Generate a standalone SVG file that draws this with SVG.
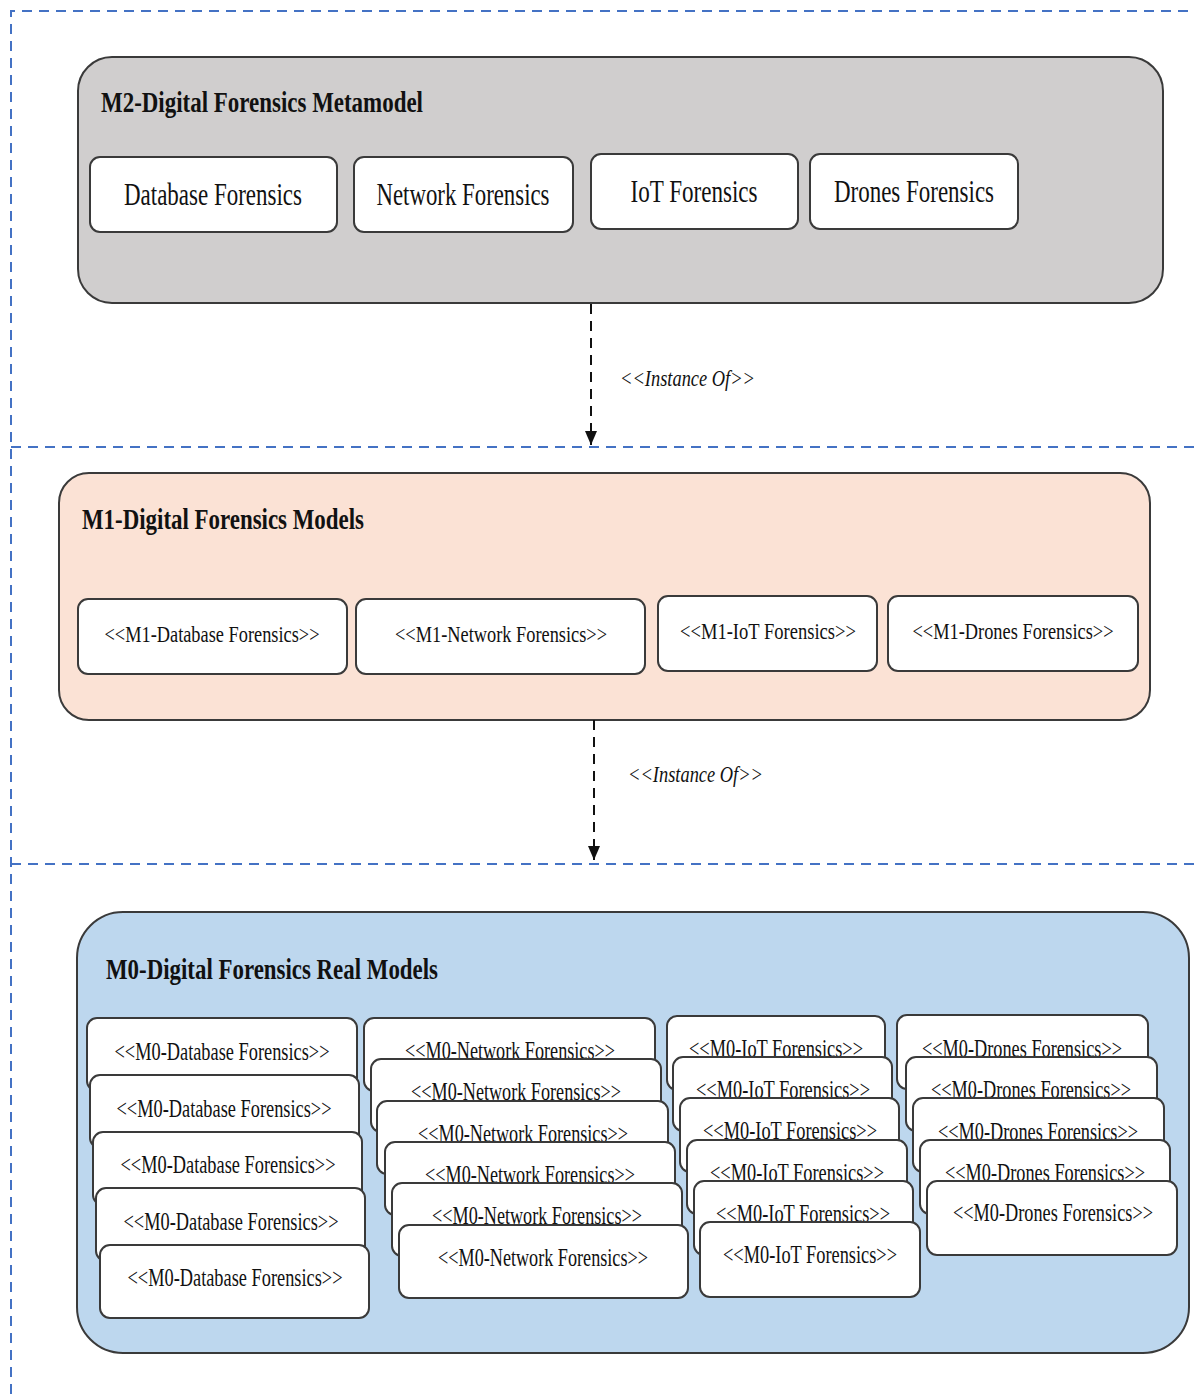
<svg xmlns="http://www.w3.org/2000/svg" width="1195" height="1394" viewBox="0 0 1195 1394">
<style>
.lane{fill:none;stroke:#4472c4;stroke-width:2;stroke-dasharray:10 7}
.box{stroke:#3a3a3a;stroke-width:2}
.child{fill:#ffffff;stroke:#3a3a3a;stroke-width:2}
text{font-family:"Liberation Serif","Times New Roman","DejaVu Serif",serif;fill:#111}
.title{font-weight:bold;font-size:30px}
.t2{font-size:32px;text-anchor:middle}
.t1{font-size:23px;text-anchor:middle}
.t0{font-size:25px;text-anchor:middle}
.lbl{font-style:italic;font-size:23px}
.conn{fill:none;stroke:#111;stroke-width:2;stroke-dasharray:10 7}
</style>
<defs>
<marker id="arr" markerWidth="14" markerHeight="12" refX="14" refY="6" orient="auto" markerUnits="userSpaceOnUse" viewBox="0 0 14 12">
<path d="M0,0 L14,6 L0,12 Z" fill="#111"/>
</marker>
</defs>
<rect width="1195" height="1394" fill="#ffffff"/>
<g id="lanes">
<path class="lane" d="M11,1394 L11,11 L1195,11"/>
<path class="lane" d="M11,447 L1195,447"/>
<path class="lane" d="M11,864 L1195,864"/>
</g>

<g id="m2">
<rect class="box" x="78" y="57" width="1085" height="246" rx="34" fill="#d0cece"/>
<text class="title" x="101" y="112" textLength="322" lengthAdjust="spacingAndGlyphs">M2-Digital Forensics Metamodel</text>
</g>
<g id="m2-db"><rect class="child" x="90" y="157" width="247" height="75" rx="10"/><text class="t2" x="213" y="205" textLength="178" lengthAdjust="spacingAndGlyphs">Database Forensics</text></g>
<g id="m2-net"><rect class="child" x="354" y="157" width="219" height="75" rx="10"/><text class="t2" x="463" y="205" textLength="173" lengthAdjust="spacingAndGlyphs">Network Forensics</text></g>
<g id="m2-iot"><rect class="child" x="591" y="154" width="207" height="75" rx="10"/><text class="t2" x="694" y="202" textLength="127" lengthAdjust="spacingAndGlyphs">IoT Forensics</text></g>
<g id="m2-drones"><rect class="child" x="810" y="154" width="208" height="75" rx="10"/><text class="t2" x="914" y="202" textLength="160" lengthAdjust="spacingAndGlyphs">Drones Forensics</text></g>

<g id="m1">
<rect class="box" x="59" y="473" width="1091" height="247" rx="30" fill="#fbe2d5"/>
<text class="title" x="82" y="529" textLength="282" lengthAdjust="spacingAndGlyphs">M1-Digital Forensics Models</text>
</g>
<g id="m1-db"><rect class="child" x="78" y="599" width="269" height="75" rx="10"/><text class="t1" x="212" y="642" textLength="215" lengthAdjust="spacingAndGlyphs">&lt;&lt;M1-Database Forensics&gt;&gt;</text></g>
<g id="m1-net"><rect class="child" x="356" y="599" width="289" height="75" rx="10"/><text class="t1" x="501" y="642" textLength="212" lengthAdjust="spacingAndGlyphs">&lt;&lt;M1-Network Forensics&gt;&gt;</text></g>
<g id="m1-iot"><rect class="child" x="658" y="596" width="219" height="75" rx="10"/><text class="t1" x="768" y="639" textLength="176" lengthAdjust="spacingAndGlyphs">&lt;&lt;M1-IoT Forensics&gt;&gt;</text></g>
<g id="m1-drones"><rect class="child" x="888" y="596" width="250" height="75" rx="10"/><text class="t1" x="1013" y="639" textLength="201" lengthAdjust="spacingAndGlyphs">&lt;&lt;M1-Drones Forensics&gt;&gt;</text></g>

<g id="m0">
<rect class="box" x="77" y="912" width="1112" height="441" rx="46" fill="#bdd7ee"/>
<text class="title" x="106" y="979" textLength="332" lengthAdjust="spacingAndGlyphs">M0-Digital Forensics Real Models</text>
</g>

<g id="m0-db-1"><rect class="child" x="87" y="1018" width="270" height="73" rx="10"/><text class="t0" x="222" y="1060" textLength="215" lengthAdjust="spacingAndGlyphs">&lt;&lt;M0-Database Forensics&gt;&gt;</text></g>
<g id="m0-db-2"><rect class="child" x="90" y="1075" width="269" height="73" rx="10"/><text class="t0" x="224" y="1117" textLength="215" lengthAdjust="spacingAndGlyphs">&lt;&lt;M0-Database Forensics&gt;&gt;</text></g>
<g id="m0-db-3"><rect class="child" x="93" y="1132" width="269" height="73" rx="10"/><text class="t0" x="228" y="1173" textLength="215" lengthAdjust="spacingAndGlyphs">&lt;&lt;M0-Database Forensics&gt;&gt;</text></g>
<g id="m0-db-4"><rect class="child" x="96" y="1188" width="269" height="73" rx="10"/><text class="t0" x="231" y="1230" textLength="215" lengthAdjust="spacingAndGlyphs">&lt;&lt;M0-Database Forensics&gt;&gt;</text></g>
<g id="m0-db-5"><rect class="child" x="100" y="1245" width="269" height="73" rx="10"/><text class="t0" x="235" y="1286" textLength="215" lengthAdjust="spacingAndGlyphs">&lt;&lt;M0-Database Forensics&gt;&gt;</text></g>

<g id="m0-net-1"><rect class="child" x="364" y="1018" width="291" height="73" rx="10"/><text class="t0" x="510" y="1059" textLength="210" lengthAdjust="spacingAndGlyphs">&lt;&lt;M0-Network Forensics&gt;&gt;</text></g>
<g id="m0-net-2"><rect class="child" x="371" y="1059" width="290" height="73" rx="10"/><text class="t0" x="516" y="1100" textLength="210" lengthAdjust="spacingAndGlyphs">&lt;&lt;M0-Network Forensics&gt;&gt;</text></g>
<g id="m0-net-3"><rect class="child" x="377" y="1101" width="291" height="73" rx="10"/><text class="t0" x="523" y="1142" textLength="210" lengthAdjust="spacingAndGlyphs">&lt;&lt;M0-Network Forensics&gt;&gt;</text></g>
<g id="m0-net-4"><rect class="child" x="385" y="1142" width="290" height="73" rx="10"/><text class="t0" x="530" y="1183" textLength="210" lengthAdjust="spacingAndGlyphs">&lt;&lt;M0-Network Forensics&gt;&gt;</text></g>
<g id="m0-net-5"><rect class="child" x="392" y="1183" width="290" height="73" rx="10"/><text class="t0" x="537" y="1224" textLength="210" lengthAdjust="spacingAndGlyphs">&lt;&lt;M0-Network Forensics&gt;&gt;</text></g>
<g id="m0-net-6"><rect class="child" x="399" y="1225" width="289" height="73" rx="10"/><text class="t0" x="543" y="1266" textLength="210" lengthAdjust="spacingAndGlyphs">&lt;&lt;M0-Network Forensics&gt;&gt;</text></g>

<g id="m0-iot-1"><rect class="child" x="667" y="1016" width="218" height="74" rx="10"/><text class="t0" x="776" y="1057" textLength="174" lengthAdjust="spacingAndGlyphs">&lt;&lt;M0-IoT Forensics&gt;&gt;</text></g>
<g id="m0-iot-2"><rect class="child" x="673" y="1057" width="219" height="74" rx="10"/><text class="t0" x="783" y="1098" textLength="174" lengthAdjust="spacingAndGlyphs">&lt;&lt;M0-IoT Forensics&gt;&gt;</text></g>
<g id="m0-iot-3"><rect class="child" x="680" y="1098" width="219" height="74" rx="10"/><text class="t0" x="790" y="1139" textLength="174" lengthAdjust="spacingAndGlyphs">&lt;&lt;M0-IoT Forensics&gt;&gt;</text></g>
<g id="m0-iot-4"><rect class="child" x="687" y="1140" width="220" height="74" rx="10"/><text class="t0" x="797" y="1181" textLength="174" lengthAdjust="spacingAndGlyphs">&lt;&lt;M0-IoT Forensics&gt;&gt;</text></g>
<g id="m0-iot-5"><rect class="child" x="694" y="1181" width="219" height="74" rx="10"/><text class="t0" x="803" y="1222" textLength="174" lengthAdjust="spacingAndGlyphs">&lt;&lt;M0-IoT Forensics&gt;&gt;</text></g>
<g id="m0-iot-6"><rect class="child" x="700" y="1222" width="220" height="75" rx="10"/><text class="t0" x="810" y="1263" textLength="174" lengthAdjust="spacingAndGlyphs">&lt;&lt;M0-IoT Forensics&gt;&gt;</text></g>

<g id="m0-drones-1"><rect class="child" x="897" y="1015" width="251" height="74" rx="10"/><text class="t0" x="1022" y="1057" textLength="200" lengthAdjust="spacingAndGlyphs">&lt;&lt;M0-Drones Forensics&gt;&gt;</text></g>
<g id="m0-drones-2"><rect class="child" x="906" y="1057" width="251" height="74" rx="10"/><text class="t0" x="1031" y="1098" textLength="200" lengthAdjust="spacingAndGlyphs">&lt;&lt;M0-Drones Forensics&gt;&gt;</text></g>
<g id="m0-drones-3"><rect class="child" x="913" y="1098" width="251" height="74" rx="10"/><text class="t0" x="1038" y="1140" textLength="200" lengthAdjust="spacingAndGlyphs">&lt;&lt;M0-Drones Forensics&gt;&gt;</text></g>
<g id="m0-drones-4"><rect class="child" x="920" y="1140" width="250" height="74" rx="10"/><text class="t0" x="1045" y="1181" textLength="200" lengthAdjust="spacingAndGlyphs">&lt;&lt;M0-Drones Forensics&gt;&gt;</text></g>
<g id="m0-drones-5"><rect class="child" x="927" y="1181" width="250" height="74" rx="10"/><text class="t0" x="1053" y="1221" textLength="200" lengthAdjust="spacingAndGlyphs">&lt;&lt;M0-Drones Forensics&gt;&gt;</text></g>

<g id="connectors">
<path class="conn" d="M591,304 L591,445" marker-end="url(#arr)"/>
<text class="lbl" x="620" y="386" textLength="135" lengthAdjust="spacingAndGlyphs">&lt;&lt;Instance Of&gt;&gt;</text>
<path class="conn" d="M594,720 L594,860" marker-end="url(#arr)"/>
<text class="lbl" x="628" y="782" textLength="135" lengthAdjust="spacingAndGlyphs">&lt;&lt;Instance Of&gt;&gt;</text>
</g>
</svg>
